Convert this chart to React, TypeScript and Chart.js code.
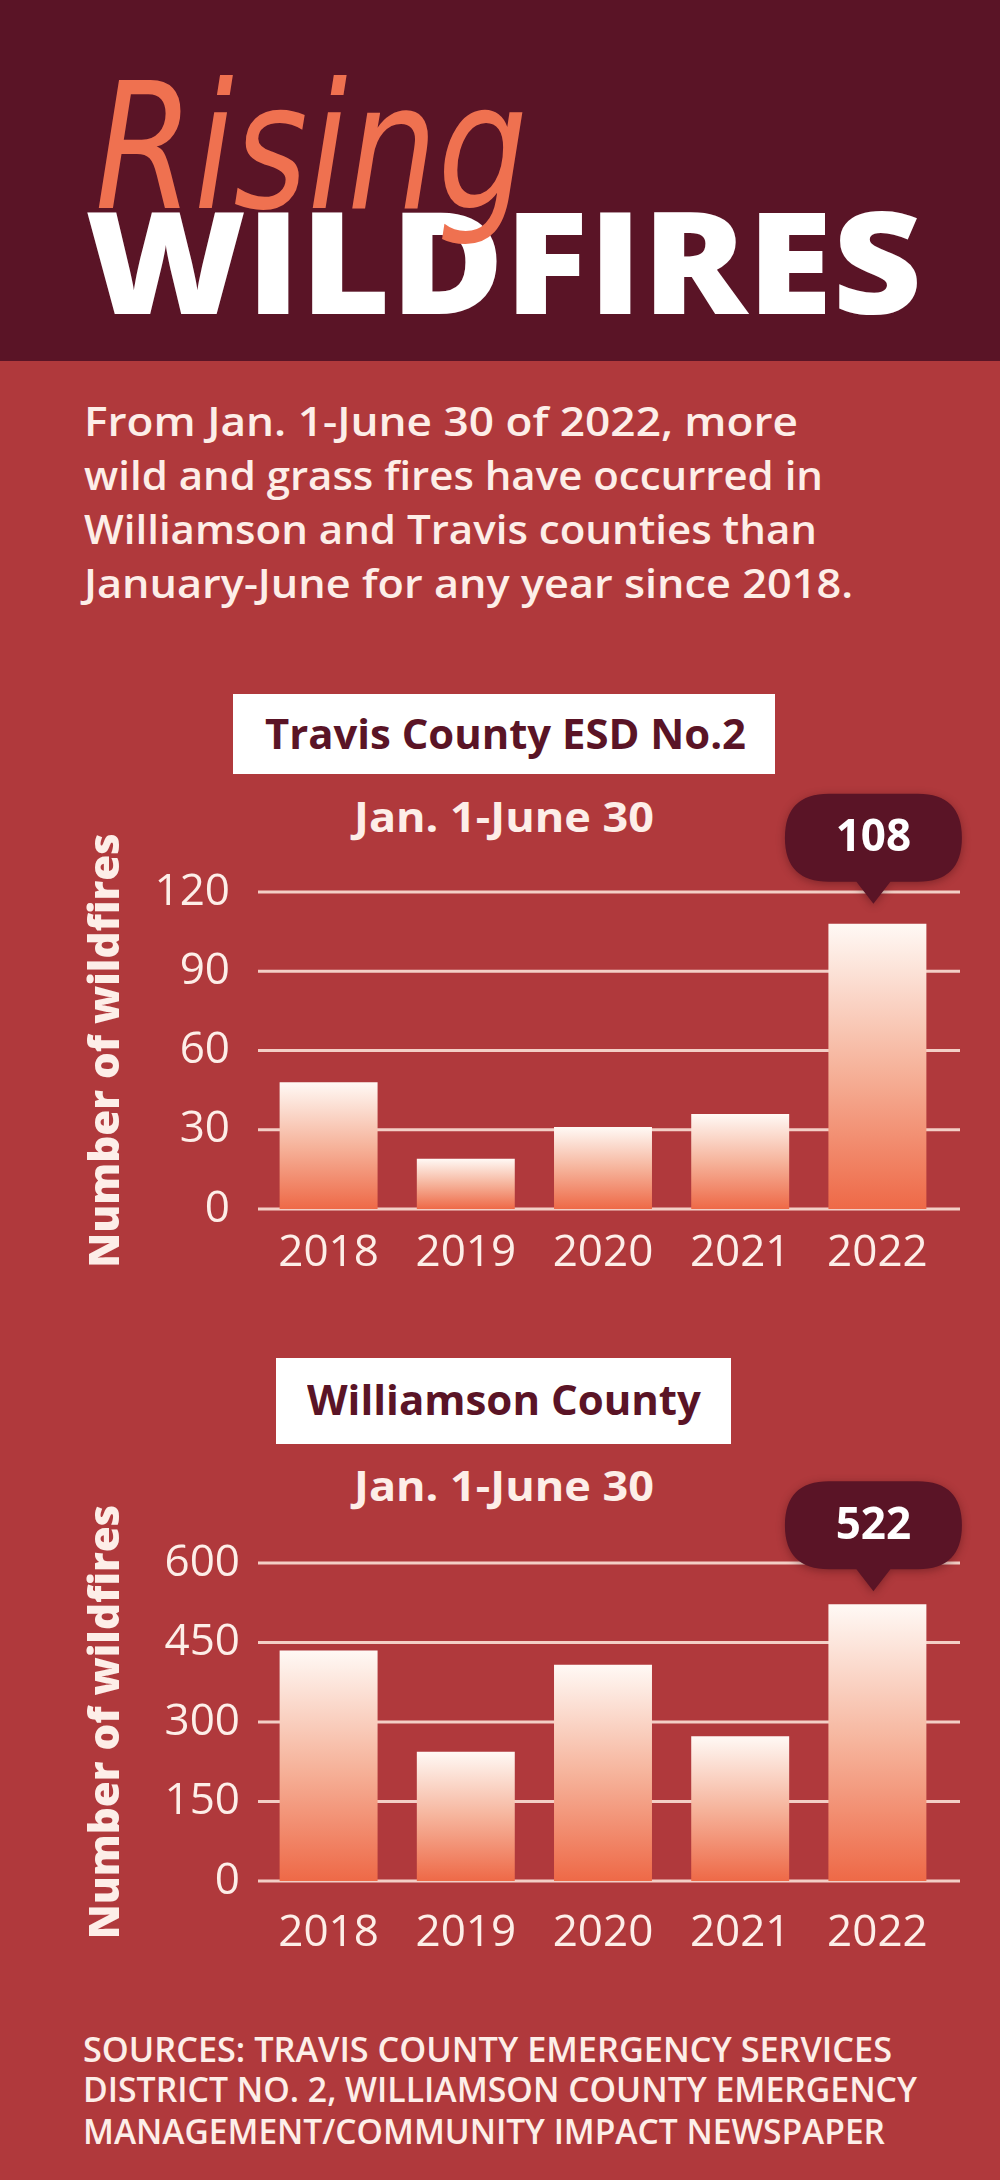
import React, { useEffect, useRef } from 'react';
import { Chart, registerables } from 'chart.js';

Chart.register(...registerables);

// ---------- data ----------
const YEARS = ['2018', '2019', '2020', '2021', '2022'];
const TRAVIS_FIRES = [48, 19, 31, 36, 108];
const WILLIAMSON_FIRES = [435, 244, 408, 273, 522];
const TRAVIS_Y_MAX = 120;
const TRAVIS_Y_STEP = 30;
const WILLIAMSON_Y_MAX = 600;
const WILLIAMSON_Y_STEP = 150;

const INTRO_LINES = [
  'From Jan. 1-June 30 of 2022, more',
  'wild and grass fires have occurred in',
  'Williamson and Travis counties than',
  'January-June for any year since 2018.',
];
const SOURCE_LINES = [
  'SOURCES: TRAVIS COUNTY EMERGENCY SERVICES',
  'DISTRICT NO. 2, WILLIAMSON COUNTY EMERGENCY',
  'MANAGEMENT/COMMUNITY IMPACT NEWSPAPER',
];

// ---------- style ----------
const BODY_BG = '#b0393c';
const HEADER_BG = '#5a1426';
const LIGHT = '#fdeee8';
const MAROON = '#5a1426';
const GRID = '#f3cfc6';
const CORAL = '#ef7150';
const OPEN = '"Open Sans", "Noto Sans", sans-serif';

const measureCtx = typeof document !== 'undefined' ? document.createElement('canvas').getContext('2d') : null;
function measure(text: string, font: string) {
  if (!measureCtx) return 1;
  measureCtx.font = font;
  return measureCtx.measureText(text).width || 1;
}

type LineProps = {
  text: string; left: number; right: number; baseline: number; size: number;
  weight?: number; family?: string; color: string; italic?: boolean; k?: number;
};
function FitLine({ text, left, right, baseline, size, weight = 400, family = OPEN, color, italic = false, k = 0.888 }: LineProps) {
  const font = `${italic ? 'italic' : 'normal'} ${weight} ${size}px ${family}`;
  const w = measure(text, font);
  const sx = (right - left) / w;
  return (
    <div
      style={{
        position: 'absolute', left, top: baseline - k * size,
        fontFamily: family, fontSize: size, fontWeight: weight, fontStyle: italic ? 'italic' : 'normal',
        lineHeight: `${size}px`, color, whiteSpace: 'nowrap',
        transform: `scaleX(${sx})`, transformOrigin: '0 0',
      }}
    >
      {text}
    </div>
  );
}

const gridPlugin = {
  id: 'customGrid',
  beforeDatasetsDraw(chart: any) {
    const { ctx, chartArea, scales } = chart;
    const y = scales.y;
    ctx.save();
    ctx.strokeStyle = GRID;
    ctx.lineWidth = 3;
    y.ticks.forEach((t: any) => {
      const py = y.getPixelForValue(t.value);
      ctx.beginPath();
      ctx.moveTo(chartArea.left - 2, py);
      ctx.lineTo(chartArea.right + 14, py);
      ctx.stroke();
    });
    ctx.restore();
  },
};

const bubblePlugin = {
  id: 'valueBubble',
  afterDatasetsDraw(chart: any, _args: any, opts: any) {
    const meta = chart.getDatasetMeta(0);
    const i = meta.data.length - 1;
    const el = meta.data[i];
    if (!el) return;
    const value = chart.data.datasets[0].data[i];
    const ctx = chart.ctx;
    const cx = el.x + (opts.dx || 0);
    const tipY = el.y - (opts.gap || 16);
    const h = 88, w = 177, ph = 22, pw = 34, r = 44;
    const bottom = tipY - ph;
    const top = bottom - h;
    const left = cx - w / 2;
    ctx.save();
    ctx.shadowColor = 'rgba(40,0,10,0.35)';
    ctx.shadowBlur = 8;
    ctx.shadowOffsetY = 2;
    ctx.fillStyle = MAROON;
    ctx.beginPath();
    ctx.moveTo(left + r, top);
    ctx.lineTo(left + w - r, top);
    ctx.quadraticCurveTo(left + w, top, left + w, top + r);
    ctx.lineTo(left + w, bottom - r);
    ctx.quadraticCurveTo(left + w, bottom, left + w - r, bottom);
    ctx.lineTo(cx + pw / 2, bottom);
    ctx.lineTo(cx, tipY);
    ctx.lineTo(cx - pw / 2, bottom);
    ctx.lineTo(left + r, bottom);
    ctx.quadraticCurveTo(left, bottom, left, bottom - r);
    ctx.lineTo(left, top + r);
    ctx.quadraticCurveTo(left, top, left + r, top);
    ctx.closePath();
    ctx.fill();
    ctx.restore();
    ctx.save();
    ctx.fillStyle = '#ffffff';
    ctx.font = `700 44px ${OPEN}`;
    ctx.textAlign = 'center';
    ctx.textBaseline = 'middle';
    ctx.fillText(String(value), cx, top + h / 2 + 1);
    ctx.restore();
  },
};

type ChartProps = {
  values: number[]; max: number; step: number; top: number; height: number;
  padTop: number; xHeight: number; xPad: number; yPad: number; gap: number;
};

function BarChart({ values, max, step, top, height, padTop, xHeight, xPad, yPad, gap }: ChartProps) {
  const ref = useRef<HTMLCanvasElement | null>(null);
  useEffect(() => {
    if (!ref.current) return;
    const chart = new Chart(ref.current, {
      type: 'bar',
      data: {
        labels: YEARS,
        datasets: [
          {
            data: values,
            borderWidth: 0,
            barPercentage: 0.714,
            categoryPercentage: 1,
            backgroundColor: (c: any) => {
              const ch = c.chart;
              if (!ch.chartArea || c.type !== 'data') return '#f29a7c';
              const ys = ch.scales.y;
              const t = ys.getPixelForValue(c.raw);
              const b = ys.getPixelForValue(0);
              const g = ch.ctx.createLinearGradient(0, t, 0, b);
              g.addColorStop(0, '#fff9f5');
              g.addColorStop(0.5, '#f6b49c');
              g.addColorStop(1, '#ee6947');
              return g;
            },
          },
        ],
      },
      options: {
        animation: false,
        responsive: false,
        maintainAspectRatio: false,
        events: [],
        layout: { padding: { top: padTop, left: 82, right: 54, bottom: 0 } },
        plugins: {
          legend: { display: false },
          tooltip: { enabled: false },
          valueBubble: { gap, dx: -4 },
        } as any,
        scales: {
          x: {
            grid: { display: false, drawTicks: false },
            border: { display: false },
            ticks: {
              color: LIGHT,
              padding: xPad,
              font: { family: OPEN, size: 44, weight: 400 as any },
            },
            afterFit: (s: any) => { s.height = xHeight; },
          },
          y: {
            min: 0,
            max,
            grid: { display: false, drawTicks: false },
            border: { display: false },
            ticks: {
              stepSize: step,
              color: LIGHT,
              padding: yPad,
              font: { family: OPEN, size: 44, weight: 400 as any },
            },
            title: {
              display: true,
              text: 'Number of wildfires',
              color: LIGHT,
              font: { family: OPEN, size: 42, weight: 800 as any },
              padding: 0,
            },
            afterFit: (s: any) => { s.width = 178; },
          },
        },
      },
      plugins: [gridPlugin, bubblePlugin],
    } as any);
    return () => chart.destroy();
  }, []);
  return (
    <canvas
      ref={ref}
      width={1000}
      height={height}
      style={{ position: 'absolute', left: 0, top, width: 1000, height }}
    />
  );
}

export default function App() {
  return (
    <div style={{ position: 'absolute', left: 0, top: 0, width: 1000, height: 2180, background: BODY_BG, overflow: 'hidden' }}>
      <div style={{ position: 'absolute', left: 0, top: 0, width: 1000, height: 361, background: HEADER_BG }} />
      <FitLine text="WILDFIRES" left={85} right={922} baseline={314} size={142} weight={800} color="#ffffff" />
      <FitLine text="Rising" left={95} right={528} baseline={208} size={175} weight={400} family='"DejaVu Sans", sans-serif' italic color={CORAL} k={0.846} />

      {INTRO_LINES.map((t, i) => (
        <FitLine key={i} text={t} left={84} right={[798, 823, 817, 853][i]} baseline={[437, 491, 545, 599][i]} size={40} weight={600} color={LIGHT} />
      ))}

      {/* Travis County chart */}
      <div style={{ position: 'absolute', left: 233, top: 694, width: 542, height: 80, background: '#ffffff' }} />
      <FitLine text="Travis County ESD No.2" left={265} right={746} baseline={749} size={42} weight={700} color={MAROON} />
      <FitLine text="Jan. 1-June 30" left={354} right={654} baseline={832} size={41} weight={700} color={LIGHT} />
      <BarChart values={TRAVIS_FIRES} max={TRAVIS_Y_MAX} step={TRAVIS_Y_STEP} top={780} height={510} padTop={112} xHeight={81} xPad={18} yPad={30} gap={20} />

      {/* Williamson County chart */}
      <div style={{ position: 'absolute', left: 276, top: 1358, width: 455, height: 86, background: '#ffffff' }} />
      <FitLine text="Williamson County" left={307} right={701} baseline={1415} size={42} weight={700} color={MAROON} />
      <FitLine text="Jan. 1-June 30" left={354} right={654} baseline={1501} size={41} weight={700} color={LIGHT} />
      <BarChart values={WILLIAMSON_FIRES} max={WILLIAMSON_Y_MAX} step={WILLIAMSON_Y_STEP} top={1460} height={500} padTop={103} xHeight={79} xPad={26} yPad={20} gap={13} />

      {SOURCE_LINES.map((t, i) => (
        <FitLine key={i} text={t} left={83} right={[892, 917, 885][i]} baseline={[2062, 2102, 2144][i]} size={35} weight={600} color={LIGHT} />
      ))}
    </div>
  );
}
